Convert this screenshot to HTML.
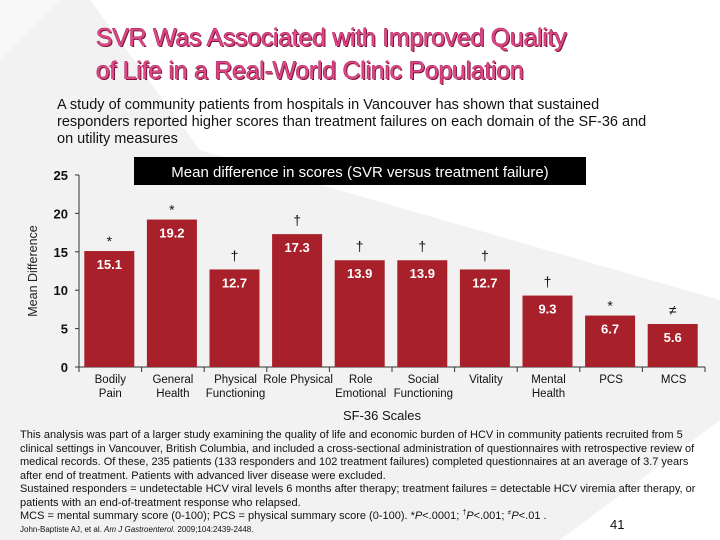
<!DOCTYPE html>
<html><head><meta charset="utf-8"><style>
body{margin:0;width:720px;height:540px;overflow:hidden;font-family:"Liberation Sans",sans-serif;background:#fff;position:relative}
.abs{position:absolute}
.title{left:96px;top:22px;font-size:25px;line-height:33px;color:#e0478a;font-weight:normal;text-shadow:1px 1px 0 #7a1838,-0.5px 0 0 #9a2050,0 -0.5px 0 #9a2050;letter-spacing:-0.3px}
.intro{left:57px;top:97px;font-size:14.5px;line-height:17px;color:#111;width:590px}
.foot{left:20px;top:429px;font-size:11px;line-height:13.5px;color:#111;white-space:nowrap;letter-spacing:0px}
.foot sup{font-size:7px;line-height:0}
</style></head><body>
<svg class="abs" style="left:0;top:0" width="720" height="540">
<polygon points="0,0 0,540 560,540 720,420 720,300 200,150 90,0" fill="#f2f2f2"/>
<polygon points="0,0 60,0 0,60" fill="#f8f8f8"/>
</svg>
<div class="abs title">SVR Was Associated with Improved Quality<br>of Life in a Real-World Clinic Population</div>
<div class="abs intro">A study of community patients from hospitals in Vancouver has shown that sustained responders reported higher scores than treatment failures on each domain of the SF-36 and on utility measures</div>
<svg id="chart" class="abs" style="left:0;top:150px" width="720" height="280"></svg>
<div class="abs foot">This analysis was part of a larger study examining the quality of life and economic burden of HCV in community patients recruited from 5<br>clinical settings in Vancouver, British Columbia, and included a cross-sectional administration of questionnaires with retrospective review of<br>medical records. Of these, 235 patients (133 responders and 102 treatment failures) completed questionnaires at an average of 3.7 years<br>after end of treatment. Patients with advanced liver disease were excluded.<br>Sustained responders = undetectable HCV viral levels 6 months after therapy; treatment failures = detectable HCV viremia after therapy, or<br>patients with an end-of-treatment response who relapsed.<br>MCS = mental summary score (0-100); PCS = physical summary score (0-100). *<i>P</i>&lt;.0001; <sup>†</sup><i>P</i>&lt;.001; <sup>≠</sup><i>P</i>&lt;.01 .</div>
<div class="abs" style="left:20px;top:525px;font-size:8px;color:#111">John-Baptiste AJ, et al. <i>Am J Gastroenterol.</i> 2009;104:2439-2448.</div>
<div class="abs" style="left:610px;top:517px;font-size:13px;color:#111">41</div>
<script>
const categories=[["Bodily","Pain"],["General","Health"],["Physical","Functioning"],["Role Physical",""],["Role","Emotional"],["Social","Functioning"],["Vitality",""],["Mental","Health"],["PCS",""],["MCS",""]];
const values=[15.1,19.2,12.7,17.3,13.9,13.9,12.7,9.3,6.7,5.6];
const markers=["*","*","†","†","†","†","†","†","*","≠"];
const yTicks=[0,5,10,15,20,25];
const svg=document.getElementById('chart');
const NS='http://www.w3.org/2000/svg';
const x0=79,slot=62.6,yBase=217,yTop=25,yMax=25;
const y=v=>yBase-(v/yMax)*(yBase-yTop);
const xc=i=>x0+slot*i+slot/2-1;
function mk(tag,attrs,text){const e=document.createElementNS(NS,tag);for(const k in attrs)e.setAttribute(k,attrs[k]);if(text!==undefined)e.textContent=text;svg.appendChild(e);return e;}
let t=mk('rect',{x:134,y:7,width:452,height:28,fill:'#000'});


t=mk('text',{x:360,y:27,'text-anchor':'middle',fill:'#fff','font-size':15},'Mean difference in scores (SVR versus treatment failure)');


t=mk('text',{transform:'translate(37,'+(y(12.5))+') rotate(-90)','text-anchor':'middle','font-size':12.5,fill:'#222'},'Mean Difference');


let a=mk('line',{x1:x0,y1:y(25),x2:x0,y2:yBase,stroke:'#333','stroke-width':1});


a=mk('line',{x1:x0,y1:yBase,x2:x0+slot*10,y2:yBase,stroke:'#333','stroke-width':1});


yTicks.forEach(v=>{
 mk('line',{x1:x0-4,y1:y(v),x2:x0,y2:y(v),stroke:'#333'});
 const l=mk('text',{x:68,y:y(v)+5,'text-anchor':'end','font-size':13,'font-weight':'bold',fill:'#111'},v);
 
 
});
for(let i=0;i<=10;i++)mk('line',{x1:x0+slot*i,y1:yBase,x2:x0+slot*i,y2:yBase+5,stroke:'#333'});
values.forEach((v,i)=>{
 const b=mk('rect',{x:xc(i)-25,y:y(v),width:50,height:yBase-y(v),fill:'#a8202a'});
 
 
 const l=mk('text',{x:xc(i),y:y(v)+18,'text-anchor':'middle','font-size':13,'font-weight':'bold',fill:'#fff'},v.toFixed(1));
 
 
 const m=mk('text',{x:xc(i),y:y(v)-(markers[i]==='*'?5:9),'text-anchor':'middle','font-size':14,fill:'#111'},markers[i]);
 
 
 categories[i].forEach((s,j)=>{
  const c=mk('text',{x:xc(i)+1,y:yBase+16+j*14,'text-anchor':'middle','font-size':11.5,fill:'#111'},s);
  
  
 });
});
t=mk('text',{x:382,y:270,'text-anchor':'middle','font-size':13,fill:'#111'},'SF-36 Scales');


</script>
</body></html>
